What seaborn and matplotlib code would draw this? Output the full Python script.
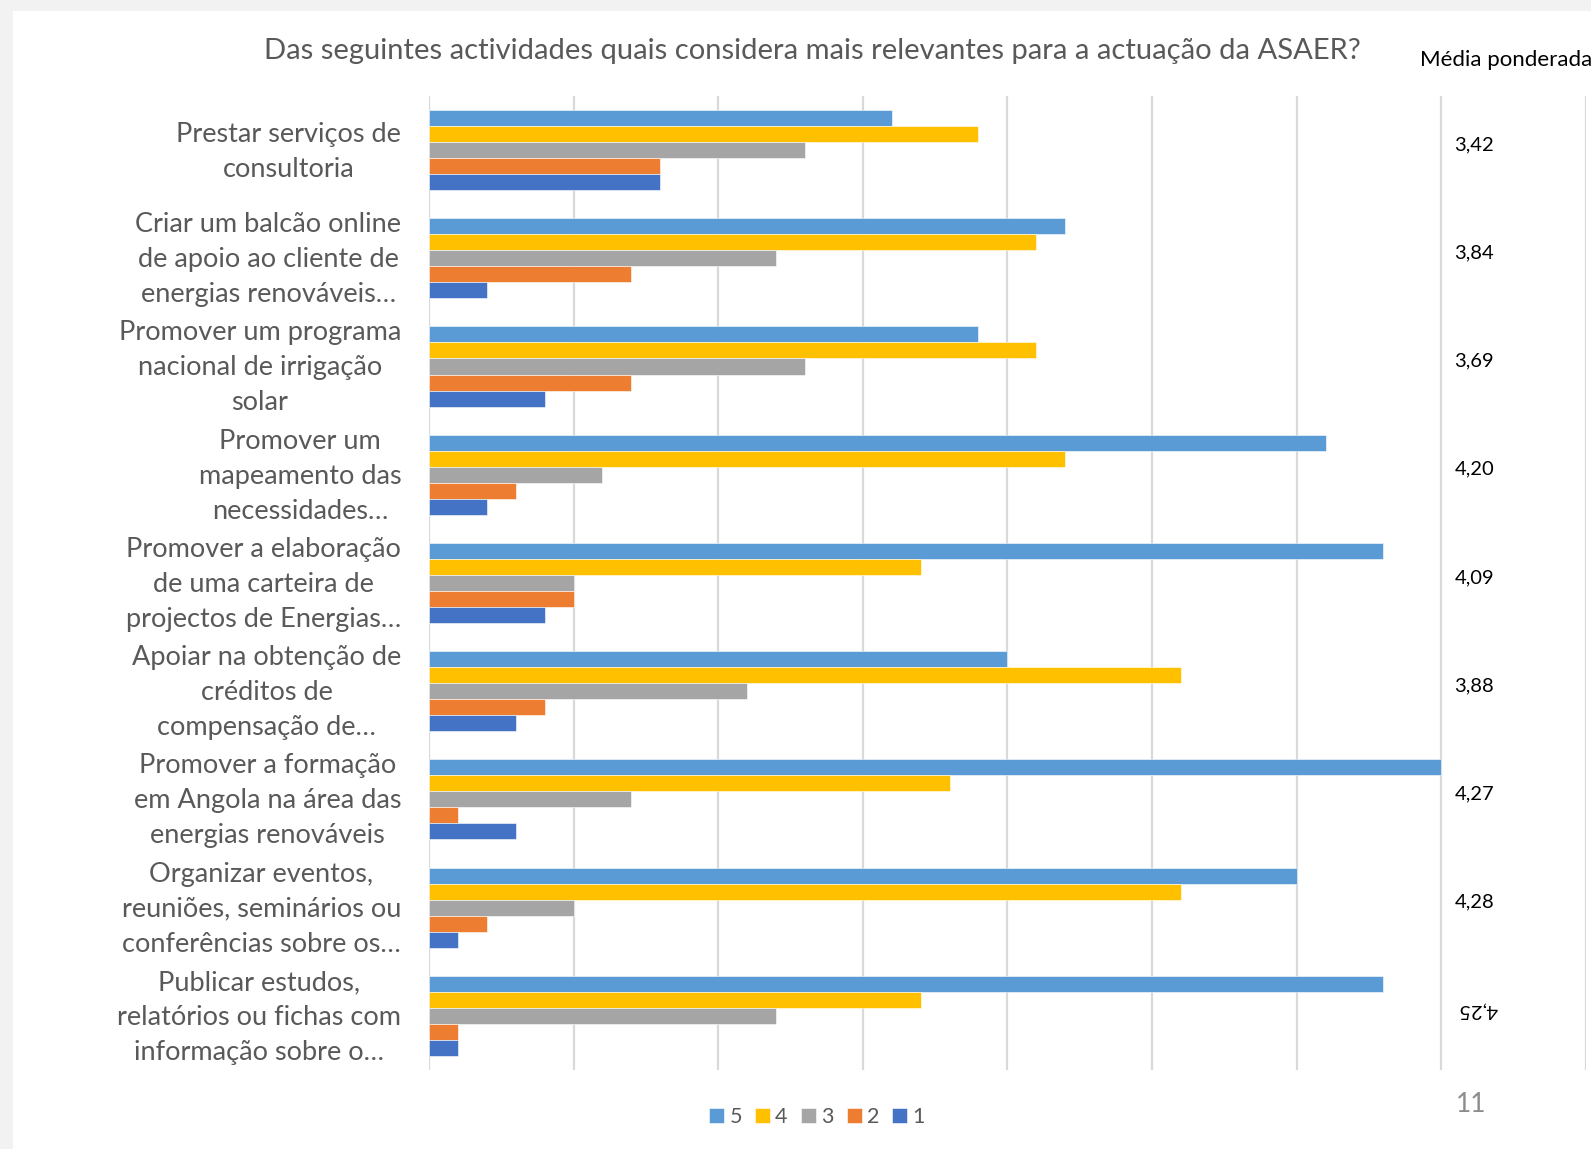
import pandas as pd
import seaborn as sns
import matplotlib.pyplot as plt
from matplotlib.patches import Rectangle
from matplotlib.transforms import ScaledTranslation

# Categories (survey items) and counts per score
categories = [
    'Prestar serviços de\nconsultoria',
    'Criar um balcão online\nde apoio ao cliente de\nenergias renováveis…',
    'Promover um programa\nnacional de irrigação\nsolar',
    'Promover um\nmapeamento das\nnecessidades…',
    'Promover a elaboração\nde uma carteira de\nprojectos de Energias…',
    'Apoiar na obtenção de\ncréditos de\ncompensação de…',
    'Promover a formação\nem Angola na área das\nenergias renováveis',
    'Organizar eventos,\nreuniões, seminários ou\nconferências sobre os…',
    'Publicar estudos,\nrelatórios ou fichas com\ninformação sobre o…',
]
score5 = [16, 22, 19, 31, 33, 20, 35, 30, 33]
score4 = [19, 21, 21, 22, 17, 26, 18, 26, 17]
score3 = [13, 12, 13, 6, 5, 11, 7, 5, 12]
score2 = [8, 7, 7, 3, 5, 4, 1, 2, 1]
score1 = [8, 2, 4, 2, 4, 3, 3, 1, 1]
weighted = ['3,42', '3,84', '3,69', '4,20', '4,09', '3,88', '4,27', '4,28', '4,25']

series = {'5': score5, '4': score4, '3': score3, '2': score2, '1': score1}
colors = {'5': '#5B9BD5', '4': '#FFC000', '3': '#A5A5A5', '2': '#ED7D31', '1': '#4472C4'}

rows = []
for s, vals in series.items():
    for c, v in zip(categories, vals):
        rows.append({'Atividade': c, 'Score': s, 'Count': v})
df = pd.DataFrame(rows)

sns.set_style('white')
plt.rcParams['font.family'] = ['Lato', 'DejaVu Sans']

fig = plt.figure(figsize=(15.91, 11.49), dpi=100)
fig.patch.set_facecolor('#F2F2F2')
fig.patches.append(Rectangle((13 / 1591, 0), 1, 1 - 11 / 1149, transform=fig.transFigure,
                             facecolor='white', edgecolor='none', zorder=-10))

ax = fig.add_axes([0.2696, 0.0688, 0.7272, 0.8477])
ax.set_facecolor('none')
sns.barplot(data=df, y='Atividade', x='Count', hue='Score', hue_order=list(series.keys()),
            order=categories, palette=colors, orient='h', width=0.74, saturation=1, ax=ax,
            edgecolor='white', linewidth=0.4, zorder=3)

ax.set_xlim(0, 40)
ax.set_ylim(8.5, -0.5)
ax.set_xticks(range(0, 41, 5))
ax.set_xticklabels([])
ax.grid(axis='x', color='#D9D9D9', linewidth=1.6, zorder=0)
ax.tick_params(length=0)
for side in ['top', 'right', 'bottom', 'left']:
    ax.spines[side].set_visible(False)
ax.set_xlabel('')
ax.set_ylabel('')
ax.set_yticks(range(len(categories)))
ax.set_yticklabels(categories, fontsize=19.5, color='#595959', multialignment='center',
                   linespacing=1.5)
ax.tick_params(axis='y', pad=20)
# nudge the labels up a little
shift = ScaledTranslation(0, 6 / 100, fig.dpi_scale_trans)
for lbl in ax.get_yticklabels():
    lbl.set_transform(lbl.get_transform() + shift)

# weighted averages column
for i, w in enumerate(weighted):
    if i == len(weighted) - 1:
        ax.text(36.25, i - 0.05, w, fontsize=14.5, color='black', va='center', ha='center', rotation=180)
    else:
        ax.text(35.45, i - 0.05, w, fontsize=14.5, color='black', va='center', ha='left')

fig.text(1420 / 1591, 1 - 60 / 1149, 'Média ponderada', fontsize=16, color='black',
         ha='left', va='center')
fig.text(812 / 1591, 1 - 51 / 1149,
         'Das seguintes actividades quais considera mais relevantes para a actuação da ASAER?',
         fontsize=21, color='#595959', ha='center', va='center')
fig.text(1471 / 1591, 1 - 1105 / 1149, '11', fontsize=19, color='#8C8C8C', ha='center', va='center')

handles, labels = ax.get_legend_handles_labels()
if ax.legend_:
    ax.legend_.remove()
fig.legend(handles, labels, loc='center', bbox_to_anchor=(817 / 1591, 1 - 1117 / 1149), ncol=5,
           frameon=False, fontsize=15.5, labelcolor='#595959', handlelength=0.7, handleheight=0.7,
           handletextpad=0.25, columnspacing=0.6)

fig.savefig('out.png', dpi=100, facecolor=fig.get_facecolor())
